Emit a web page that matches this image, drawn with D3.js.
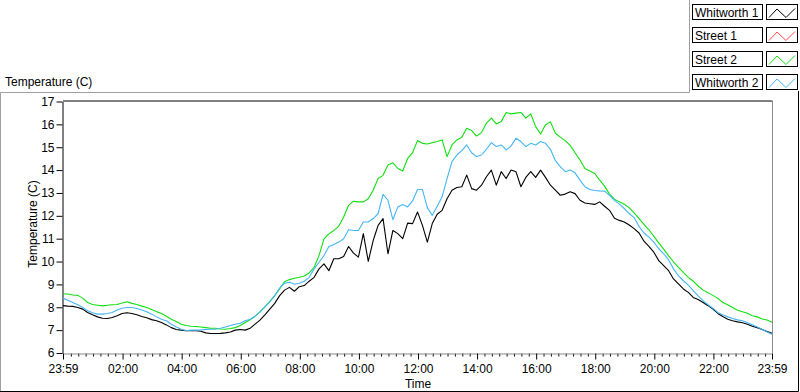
<!DOCTYPE html>
<html>
<head>
<meta charset="utf-8">
<script src="https://cdnjs.cloudflare.com/ajax/libs/d3/7.8.5/d3.min.js"></script>
<style>
body { margin: 0; background: #fff; }
svg { display: block; font-family: "Liberation Sans", Arial, sans-serif; font-size: 12px; }
</style>
</head>
<body>
<svg id="chart" width="800" height="392"></svg>
<script>
// readings every 10 minutes, first one at 23:59
var stepMin = 10;

var whitworth1 = [
  8.07, 8.05, 8.04, 7.99, 7.92, 7.77, 7.67, 7.58, 7.52, 7.51, 7.55, 7.63,
  7.73, 7.76, 7.73, 7.67, 7.60, 7.54, 7.46, 7.41, 7.33, 7.23, 7.11, 7.03,
  7.00, 6.98, 6.97, 6.97, 6.95, 6.88, 6.85, 6.85, 6.86, 6.88, 6.92, 7.00,
  7.03, 7.00, 7.08, 7.26, 7.44, 7.67, 7.92, 8.17, 8.51, 8.75, 8.87, 8.70,
  8.90, 8.95, 9.14, 9.31, 9.68, 9.90, 9.60, 10.12, 10.12, 10.22, 10.66, 10.37,
  10.19, 11.22, 10.01, 10.92, 11.58, 11.88, 10.34, 11.36, 11.22, 11.00, 11.68, 11.66,
  12.17, 11.58, 10.85, 11.66, 12.07, 12.24, 12.75, 13.12, 13.24, 13.27, 13.78, 13.19,
  13.12, 13.34, 13.71, 14.00, 13.34, 13.93, 13.63, 14.00, 13.93, 13.27, 13.68, 13.93,
  13.68, 14.00, 13.68, 13.34, 13.12, 12.90, 12.95, 13.05, 12.97, 12.68, 12.56, 12.53,
  12.50, 12.61, 12.42, 12.24, 11.89, 11.80, 11.73, 11.60, 11.44, 11.25, 10.89, 10.66,
  10.41, 10.04, 9.82, 9.60, 9.24, 9.02, 8.80, 8.65, 8.43, 8.34, 8.21, 8.07,
  7.92, 7.73, 7.60, 7.48, 7.41, 7.36, 7.32, 7.26, 7.17, 7.11, 7.03, 6.94,
  6.86
];

var street1 = []; // listed in the legend, no trace visible

var street2 = [
  8.58, 8.58, 8.54, 8.52, 8.40, 8.21, 8.12, 8.09, 8.06, 8.09, 8.11, 8.12,
  8.19, 8.24, 8.17, 8.12, 8.05, 7.99, 7.90, 7.81, 7.73, 7.61, 7.48, 7.38,
  7.26, 7.20, 7.17, 7.16, 7.14, 7.11, 7.08, 7.08, 7.05, 7.04, 7.07, 7.11,
  7.20, 7.33, 7.45, 7.61, 7.79, 8.02, 8.26, 8.51, 8.80, 9.12, 9.21, 9.27,
  9.31, 9.37, 9.50, 9.75, 10.26, 10.99, 11.21, 11.36, 11.54, 11.95, 12.46, 12.64,
  12.61, 12.61, 12.75, 13.12, 13.63, 13.77, 14.22, 14.32, 14.07, 13.96, 14.51, 14.76,
  15.29, 15.17, 15.14, 15.20, 15.25, 15.32, 14.59, 15.10, 15.32, 15.44, 15.83, 15.73,
  15.49, 15.64, 16.05, 16.27, 16.02, 16.12, 16.52, 16.46, 16.49, 16.52, 16.27, 16.46,
  15.90, 15.58, 15.98, 16.11, 15.61, 15.44, 15.29, 15.08, 14.76, 14.44, 14.07, 13.96,
  13.85, 13.56, 13.30, 12.95, 12.73, 12.61, 12.51, 12.35, 12.13, 11.88, 11.63, 11.39,
  11.10, 10.82, 10.54, 10.25, 9.99, 9.75, 9.53, 9.31, 9.14, 8.93, 8.75, 8.64,
  8.52, 8.39, 8.21, 8.11, 7.99, 7.87, 7.80, 7.74, 7.63, 7.58, 7.49, 7.44,
  7.35
];

var whitworth2 = [
  8.40, 8.31, 8.21, 8.11, 7.99, 7.85, 7.76, 7.70, 7.70, 7.73, 7.77, 7.88,
  7.96, 7.99, 7.99, 7.95, 7.88, 7.80, 7.70, 7.58, 7.48, 7.41, 7.26, 7.14,
  7.04, 6.97, 7.00, 7.00, 7.01, 7.03, 7.04, 7.04, 7.08, 7.14, 7.20, 7.26,
  7.30, 7.41, 7.48, 7.61, 7.81, 8.02, 8.24, 8.51, 8.84, 9.05, 9.09, 9.01,
  9.05, 9.14, 9.31, 9.68, 9.97, 10.26, 10.66, 10.75, 10.85, 11.00, 11.39, 11.36,
  11.36, 11.73, 11.73, 11.88, 12.09, 12.94, 12.68, 11.83, 12.39, 12.50, 12.39, 12.65,
  13.15, 13.15, 12.36, 12.02, 12.42, 12.83, 13.63, 14.37, 14.66, 14.85, 15.10, 14.76,
  14.59, 14.66, 14.91, 15.20, 15.03, 15.10, 14.88, 15.05, 15.39, 15.25, 15.03, 15.17,
  15.10, 15.25, 15.17, 14.91, 14.41, 14.15, 13.93, 14.00, 13.88, 13.56, 13.27, 13.15,
  13.11, 13.09, 13.08, 12.90, 12.68, 12.51, 12.32, 12.10, 11.92, 11.54, 11.25, 11.07,
  10.85, 10.56, 10.34, 10.07, 9.68, 9.38, 9.16, 8.97, 8.73, 8.50, 8.29, 8.11,
  7.96, 7.77, 7.67, 7.58, 7.51, 7.45, 7.41, 7.32, 7.23, 7.14, 7.03, 6.92,
  6.82
];

var seriesNames = ['Whitworth 1', 'Street 1', 'Street 2', 'Whitworth 2'];
var seriesColors = ['#000000', '#ff4a4a', '#10e010', '#44b6f6'];

// minutes after 23:59
var tickMinutes = [0, 121, 241, 361, 481, 601, 721, 841, 961, 1081, 1201, 1321, 1440];
var tickLabels = ['23:59', '02:00', '04:00', '06:00', '08:00', '10:00', '12:00',
                  '14:00', '16:00', '18:00', '20:00', '22:00', '23:59'];
var yTicks = [6, 7, 8, 9, 10, 11, 12, 13, 14, 15, 16, 17];

var svg = d3.select('#chart');

var plot = { left: 63, right: 772, top: 101.5, bottom: 353 };

var x = d3.scaleLinear().domain([0, 1440]).range([plot.left, plot.right]),
    y = d3.scaleLinear().domain([6, 17]).range([plot.bottom, plot.top]);

// outer panel frame
svg.append('path')
  .attr('d', 'M0.5,392V92.5H689.5V0')
  .attr('fill', 'none').attr('stroke', '#a0a0a0');
svg.append('path')
  .attr('d', 'M798.5,91V391.5H0')
  .attr('fill', 'none').attr('stroke', '#000');

// title above the graph
svg.append('text')
  .attr('x', 5).attr('y', 86)
  .text('Temperature (C)');

// plot box: black top/left, grey right/bottom
svg.append('line')
  .attr('x1', plot.left).attr('x2', plot.right + 0.5)
  .attr('y1', plot.top - 0.5).attr('y2', plot.top - 0.5)
  .attr('stroke', '#000');
svg.append('line')
  .attr('x1', plot.right + 0.5).attr('x2', plot.right + 0.5)
  .attr('y1', plot.top - 0.5).attr('y2', plot.bottom)
  .attr('stroke', '#8a8a8a');

// minor x ticks every 15 min
var minorTicks = [];
for (var m = tickMinutes[1] - 15 * 8; m < 1440; m += 15) {
  if (m > 4 && tickMinutes.indexOf(m) < 0 && m < 1436) minorTicks.push(m);
}

var gx = svg.append('g').attr('transform', 'translate(0,' + (plot.bottom + 0.5) + ')');
gx.append('g').call(d3.axisBottom(x).tickValues(minorTicks).tickSize(3).tickFormat(''))
  .call(function(g) { g.select('.domain').remove(); });
gx.append('g').call(d3.axisBottom(x).tickValues(tickMinutes).tickSizeInner(6).tickSizeOuter(0)
    .tickPadding(5).tickFormat(function(d, i) { return tickLabels[i]; }))
  .call(function(g) {
    g.select('.domain').attr('stroke', '#8a8a8a');
    g.selectAll('text').attr('font-size', 12).attr('font-family', null).attr('fill', '#000');
  });
gx.selectAll('.tick line').attr('stroke', '#000');

var gy = svg.append('g').attr('transform', 'translate(' + (plot.left - 0.5) + ',0)');
gy.call(d3.axisLeft(y).tickValues(yTicks).tickSizeInner(6).tickSizeOuter(0).tickPadding(2))
  .call(function(g) {
    g.select('.domain').attr('stroke', '#000');
    g.selectAll('text').attr('font-size', 12).attr('font-family', null).attr('fill', '#000');
  });

// axis names
svg.append('text')
  .attr('x', 418).attr('y', 388)
  .attr('text-anchor', 'middle')
  .text('Time');
svg.append('text')
  .attr('transform', 'translate(37,224) rotate(-90)')
  .attr('text-anchor', 'middle')
  .text('Temperature (C)');

// traces
var line = d3.line()
  .x(function(d, i) { return x(i * stepMin); })
  .y(function(d) { return y(d); });

var seriesData = [whitworth1, street1, street2, whitworth2];
[0, 1, 2, 3].forEach(function(k) {
  if (!seriesData[k].length) return;
  svg.append('path')
    .datum(seriesData[k])
    .attr('d', line)
    .attr('fill', 'none')
    .attr('stroke', seriesColors[k])
    .attr('stroke-width', 1.1)
    .attr('stroke-linejoin', 'round');
});

// legend
var legend = svg.append('g');
seriesNames.forEach(function(name, k) {
  var top = 4 + Math.round(k * 23.3);
  var row = legend.append('g').attr('transform', 'translate(0,' + top + ')');
  row.append('rect')
    .attr('x', 692.5).attr('y', 0.5).attr('width', 70).attr('height', 15)
    .attr('fill', '#fff').attr('stroke', '#000');
  row.append('text')
    .attr('x', 695).attr('y', 12.5)
    .text(name);
  row.append('rect')
    .attr('x', 766.5).attr('y', 0.5).attr('width', 31).attr('height', 15)
    .attr('fill', '#fff').attr('stroke', '#000');
  row.append('path')
    .attr('d', 'M769,13.5L777,5L786,13.5L795,4.5')
    .attr('fill', 'none')
    .attr('stroke', seriesColors[k]);
});
</script>
</body>
</html>
